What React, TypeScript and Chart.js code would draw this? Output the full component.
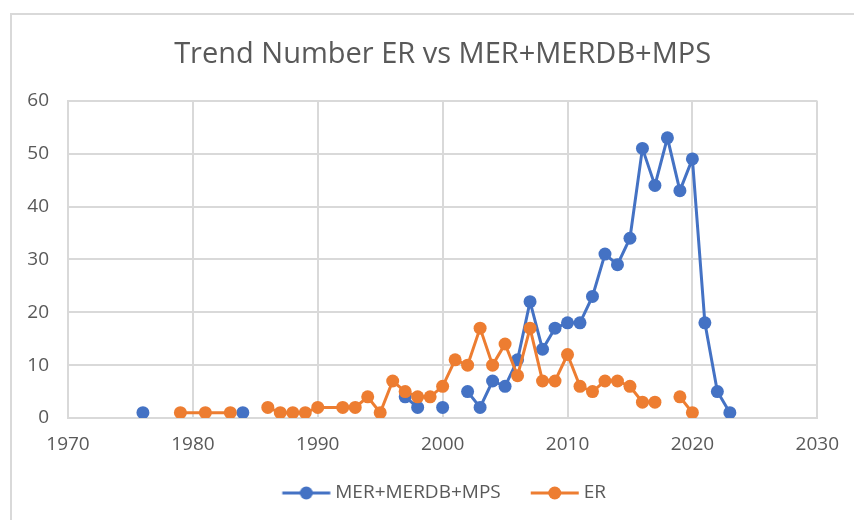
import React, { useEffect, useRef } from "react";
import { Chart, registerables } from "chart.js";
Chart.register(...registerables);

const years = [1976, 1979, 1981, 1983, 1984, 1986, 1987, 1988, 1989, 1990, 1992, 1993, 1994, 1995, 1996, 1997, 1998, 1999, 2000, 2001, 2002, 2003, 2004, 2005, 2006, 2007, 2008, 2009, 2010, 2011, 2012, 2013, 2014, 2015, 2016, 2017, 2018, 2019, 2020, 2021, 2022, 2023];
const merValues: (number | null)[] = [1, null, null, null, 1, null, null, null, null, null, null, null, null, null, null, 4, 2, null, 2, null, 5, 2, 7, 6, 11, 22, 13, 17, 18, 18, 23, 31, 29, 34, 51, 44, 53, 43, 49, 18, 5, 1];
const erValues: (number | null)[] = [null, 1, 1, 1, null, 2, 1, 1, 1, 2, 2, 2, 4, 1, 7, 5, 4, 4, 6, 11, 10, 17, 10, 14, 8, 17, 7, 7, 12, 6, 5, 7, 7, 6, 3, 3, null, 4, 1, null, null, null];
const seriesNames = ["MER+MERDB+MPS", "ER"];
const titleText = "Trend Number ER vs MER+MERDB+MPS";
const xMin = 1970, xMax = 2030, xStep = 10;
const yMin = 0, yMax = 60, yStep = 10;

const BLUE = "#4472C4";
const ORANGE = "#ED7D31";
const GRID = "#d9d9d9";
const TEXT = "#595959";
const FONT = "'Open Sans', sans-serif";

const LEGEND_FONT = 19;
const LEGEND_PAD = 27;
const BOX_W = 46.5;

function legendIcon(color: string): HTMLCanvasElement {
  const W = 64, H = 16;
  const c = document.createElement("canvas");
  c.width = W;
  c.height = H;
  const ctx = c.getContext("2d")!;
  const c1 = W / 2 + BOX_W / 2 + LEGEND_FONT / 2 - 5;
  const c0 = c1 - 48;
  ctx.strokeStyle = color;
  ctx.lineWidth = 3;
  ctx.beginPath();
  ctx.moveTo(c0, H / 2);
  ctx.lineTo(c1, H / 2);
  ctx.stroke();
  ctx.fillStyle = color;
  ctx.beginPath();
  ctx.arc((c0 + c1) / 2, H / 2, 6.5, 0, Math.PI * 2);
  ctx.fill();
  return c;
}

export default function App() {
  const ref = useRef<HTMLCanvasElement | null>(null);
  useEffect(() => {
    if (!ref.current) return;
    const icons = [legendIcon(BLUE), legendIcon(ORANGE)];
    const toPts = (vals: (number | null)[]) => years.map((x, i) => ({ x, y: vals[i] }));
    const chart = new Chart(ref.current, {
      type: "line",
      data: {
        datasets: [
          {
            label: seriesNames[0],
            data: toPts(merValues) as any,
            borderColor: BLUE,
            backgroundColor: BLUE,
            pointBackgroundColor: BLUE,
            pointBorderColor: BLUE,
            borderWidth: 3,
            pointRadius: 6.5,
            pointBorderWidth: 0,
            spanGaps: false,
            order: 1,
          },
          {
            label: seriesNames[1],
            data: toPts(erValues) as any,
            borderColor: ORANGE,
            backgroundColor: ORANGE,
            pointBackgroundColor: ORANGE,
            pointBorderColor: ORANGE,
            borderWidth: 3,
            pointRadius: 6.5,
            pointBorderWidth: 0,
            spanGaps: false,
            order: 0,
          },
        ],
      },
      options: {
        animation: false,
        responsive: false,
        layout: { padding: { left: 0, right: 34, top: 0, bottom: 7.5 } },
        plugins: {
          tooltip: { enabled: false },
          title: {
            display: true,
            fullSize: false,
            text: titleText,
            color: TEXT,
            font: { family: FONT, size: 29, weight: "normal" as any, lineHeight: 1.2 },
            padding: { top: 37, bottom: 29 },
          },
          legend: {
            position: "bottom",
            fullSize: false,
            labels: {
              usePointStyle: true,
              pointStyleWidth: BOX_W,
              color: TEXT,
              font: { family: FONT, size: LEGEND_FONT },
              padding: LEGEND_PAD,
              sort: (a: any, b: any) => a.datasetIndex - b.datasetIndex,
              generateLabels: (c: any) => {
                const items = Chart.defaults.plugins.legend.labels.generateLabels(c);
                return items.map((it: any) => ({ ...it, pointStyle: icons[it.datasetIndex] }));
              },
            },
          },
        },
        scales: {
          x: {
            type: "linear",
            min: xMin,
            max: xMax,
            ticks: {
              stepSize: xStep,
              color: TEXT,
              font: { family: FONT, size: 19 },
              padding: 15,
              callback: (v: any) => String(v),
            },
            grid: { color: GRID, lineWidth: 2, drawTicks: false },
            border: { color: GRID, width: 2 },
            afterFit: (s: any) => { s.height = 38.5; },
          },
          y: {
            type: "linear",
            min: yMin,
            max: yMax,
            ticks: {
              stepSize: yStep,
              color: TEXT,
              font: { family: FONT, size: 19 },
              padding: 19,
            },
            grid: { color: GRID, lineWidth: 2, drawTicks: false },
            border: { color: GRID, width: 2 },
            afterFit: (s: any) => { s.width = 68; },
          },
        },
      },
    });
    return () => chart.destroy();
  }, []);
  return (
    <div style={{ position: "absolute", left: 0, top: 0, width: 854, height: 520, background: "#fff", overflow: "hidden" }}>
      <div style={{ position: "absolute", left: 10, top: 13, width: 900, height: 600, border: "2px solid #d9d9d9", boxSizing: "border-box" }} />
      <canvas ref={ref} width={854} height={520} style={{ position: "absolute", left: 0, top: 0 }} />
    </div>
  );
}
